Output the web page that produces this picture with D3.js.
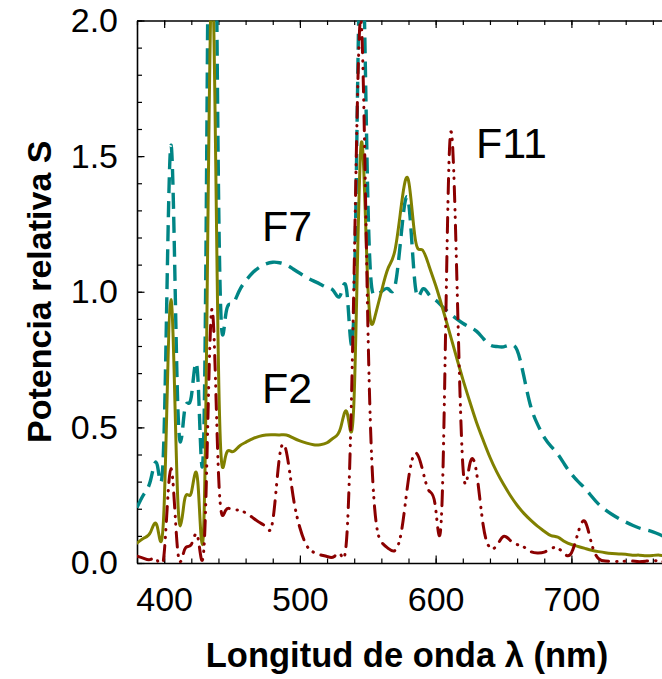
<!DOCTYPE html>
<html><head><meta charset="utf-8">
<script src="https://cdn.jsdelivr.net/npm/d3@7"></script>
<style>
body{margin:0;background:#fff}
text{font-family:"Liberation Sans",Arial,Helvetica,sans-serif;fill:#000}
</style>
</head><body>
<svg id="chart" width="662" height="679"></svg>
<script>
// Wavelengths (nm)
const wavelengths = [380,385,390,395,400,405,410,415,420,425,430,435,440,445,450,455,460,465,470,475,480,485,490,495,500,505,510,515,520,525,530,535,540,545,550,555,560,565,570,575,580,585,590,595,600,605,610,615,620,625,630,635,640,645,650,655,660,665,670,675,680,685,690,695,700,705,710,715,720,725,730,735,740,745,750,755,760,765,770,775,780];
// Relative power S for each illuminant
const f2 = [0.073,0.092,0.114,0.133,0.213,0.971,0.238,0.231,0.259,0.286,0.313,2.165,
  0.731,0.388,0.410,0.429,0.445,0.458,0.467,0.472,0.473,0.472,0.472,0.461,
  0.450,0.442,0.436,0.436,0.443,0.462,0.498,0.550,0.619,1.540,1.030,0.903,
  1.000,1.087,1.152,1.329,1.410,1.194,1.155,1.097,1.024,0.941,0.854,0.765,
  0.678,0.597,0.520,0.453,0.390,0.336,0.290,0.249,0.213,0.183,0.158,0.136,
  0.117,0.101,0.095,0.079,0.068,0.061,0.054,0.047,0.042,0.038,0.035,0.033,
  0.032,0.029,0.029,0.027,0.028,0.029,0.025,0.020,0.017];
const f7 = [0.204,0.253,0.305,0.360,0.489,1.540,0.586,0.560,0.613,0.669,0.727,3.509,
  1.393,0.902,0.954,1.000,1.040,1.069,1.090,1.103,1.109,1.107,1.099,1.084,
  1.068,1.053,1.040,1.028,1.016,1.002,0.989,0.980,0.975,2.347,1.355,0.989,
  1.000,1.011,1.020,1.229,1.331,1.020,1.007,0.990,0.969,0.945,0.922,0.902,
  0.884,0.870,0.855,0.828,0.804,0.798,0.797,0.804,0.785,0.688,0.578,0.512,
  0.463,0.430,0.401,0.363,0.328,0.300,0.275,0.245,0.217,0.196,0.179,0.164,
  0.151,0.139,0.129,0.122,0.115,0.105,0.093,0.079,0.064];
const f11 = [0.025,0.017,0.013,0.010,0.035,0.348,0.044,0.049,0.068,0.091,0.123,0.932,
  0.333,0.191,0.197,0.195,0.185,0.168,0.150,0.132,0.155,0.392,0.411,0.246,
  0.130,0.064,0.040,0.030,0.024,0.023,0.032,0.135,1.087,2.000,0.895,0.206,
  0.078,0.054,0.046,0.122,0.310,0.405,0.350,0.267,0.201,0.267,1.500,1.169,
  0.362,0.361,0.337,0.140,0.057,0.064,0.098,0.083,0.068,0.059,0.042,0.037,
  0.040,0.053,0.055,0.033,0.037,0.113,0.153,0.069,0.016,0.007,0.006,0.006,
  0.007,0.007,0.005,0.007,0.009,0.007,0.004,0.003,0.002];

const xMajorTicks = [400,500,600,700];
const xMinorTicks = [380,400,420,440,460,480,500,520,540,560,580,600,620,640,660,680,700,720,740,760,780];
const yMajorTicks = [0,0.5,1.0,1.5,2.0];
const yMinorTicks = [0,0.1,0.2,0.3,0.4,0.5,0.6,0.7,0.8,0.9,1.0,1.1,1.2,1.3,1.4,1.5,1.6,1.7,1.8,1.9,2.0];
const seriesNames = ["F7","F2","F11"];
const seriesColors = ["#008585","#808000","#8b0000"];
const xTitle = "Longitud de onda \u03bb (nm)";
const yTitle = "Potencia relativa S";

const svg = d3.select("#chart");
const L = 137, R = 680, T = 20.5, B = 563;
const x = d3.scaleLinear().domain([380,780]).range([L,R]);
const y = d3.scaleLinear().domain([0,2]).range([B,T]);

svg.append("defs").append("clipPath").attr("id","clip")
  .append("rect").attr("x",L).attr("y",T).attr("width",R-L).attr("height",B-T);

const fmt = d3.format(".1f");

// bottom axis
const gB = svg.append("g").attr("transform",`translate(0,${B})`);
gB.call(d3.axisBottom(x).tickValues(xMinorTicks).tickFormat("").tickSizeInner(-4.5).tickSizeOuter(0));
gB.call(g=>g.select(".domain").remove());
const gB2 = svg.append("g").attr("transform",`translate(0,${B})`);
gB2.call(d3.axisBottom(x).tickValues(xMajorTicks).tickFormat(d3.format("d")).tickSizeInner(-7.5).tickSizeOuter(0).tickPadding(24));
// top axis
const gT = svg.append("g").attr("transform",`translate(0,${T})`);
gT.call(d3.axisTop(x).tickValues(xMinorTicks).tickFormat("").tickSizeInner(-4.5).tickSizeOuter(0));
gT.call(g=>g.select(".domain").remove());
const gT2 = svg.append("g").attr("transform",`translate(0,${T})`);
gT2.call(d3.axisTop(x).tickValues(xMajorTicks).tickFormat("").tickSizeInner(-7.5).tickSizeOuter(0));
// left axis
const gL = svg.append("g").attr("transform",`translate(${L},0)`);
gL.call(d3.axisLeft(y).tickValues(yMinorTicks).tickFormat("").tickSizeInner(-5).tickSizeOuter(0));
gL.call(g=>g.select(".domain").remove());
const gL2 = svg.append("g").attr("transform",`translate(${L},0)`);
gL2.call(d3.axisLeft(y).tickValues(yMajorTicks).tickFormat(fmt).tickSizeInner(-7.5).tickSizeOuter(0).tickPadding(19));

svg.selectAll(".tick line").attr("stroke","#000").attr("stroke-width",1.2);
svg.selectAll(".domain").attr("stroke","#000").attr("stroke-width",1.6);
svg.selectAll(".tick text").attr("font-size",34).attr("font-family","'Liberation Sans',Arial,sans-serif").attr("fill","#000");

// series
const series = [f7, f2, f11];
const styles = [
  {w:3.4, dash:"16,8", cap:"butt"},
  {w:3, dash:null, cap:"round"},
  {w:3, dash:"15,8,0.5,7,0.5,8", cap:"round"}
];
const line = d3.line().x((d,i)=>x(wavelengths[i])).y(d=>y(d)).curve(d3.curveNatural);
const gS = svg.append("g").attr("clip-path","url(#clip)");
series.forEach((s,k)=>{
  gS.append("path").datum(s)
    .attr("d",line)
    .attr("fill","none")
    .attr("stroke",seriesColors[k])
    .attr("stroke-width",styles[k].w)
    .attr("stroke-linecap",styles[k].cap)
    .attr("stroke-linejoin","round")
    .attr("stroke-dasharray",styles[k].dash);
});

// series labels
const labelPos = [[262,241],[262,403],[476,158]];
seriesNames.forEach((n,k)=>{
  svg.append("text").attr("x",labelPos[k][0]).attr("y",labelPos[k][1])
    .attr("font-size",43).text(n);
});

// axis titles
svg.append("text").attr("x",407).attr("y",667).attr("text-anchor","middle")
  .attr("font-size",34.5).attr("font-weight","bold").text(xTitle);
svg.append("text").attr("transform",`translate(51,${(T+B)/2}) rotate(-90)`)
  .attr("text-anchor","middle").attr("font-size",34).attr("font-weight","bold").text(yTitle);
</script>
</body></html>
